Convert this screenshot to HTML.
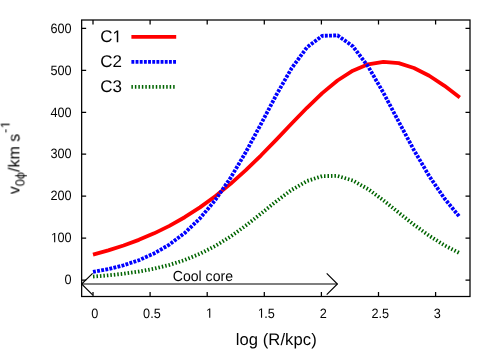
<!DOCTYPE html>
<html><head><meta charset="utf-8"><style>
html,body{margin:0;padding:0;background:#fff}
svg{display:block}
text{font-family:"Liberation Sans",sans-serif;fill:#000;text-rendering:geometricPrecision}
</style></head><body>
<svg width="500" height="350" viewBox="0 0 500 350">
<rect width="500" height="350" fill="#fff"/>
<g opacity="0.99"><g font-size="12.7"><text transform="translate(91.27,317.80) scale(1,1.07)" font-size="12.7">0</text><text transform="translate(143.07,317.80) scale(1,1.07)" font-size="12.7">0.5</text><path transform="translate(205.98,317.80) scale(0.006201,-0.006635)" d="M515 0L515 1237L197 1010L197 1180L530 1409L696 1409L696 0Z" fill="#000"/><path transform="translate(257.78,317.80) scale(0.006201,-0.006635)" d="M515 0L515 1237L197 1010L197 1180L530 1409L696 1409L696 0Z" fill="#000"/><text transform="translate(264.34,317.80) scale(1,1.07)" font-size="12.7">.5</text><text transform="translate(319.67,317.80) scale(1,1.07)" font-size="12.7">2</text><text transform="translate(371.47,317.80) scale(1,1.07)" font-size="12.7">2.5</text><text transform="translate(433.87,317.80) scale(1,1.07)" font-size="12.7">3</text><text transform="translate(64.54,284.20) scale(1,1.07)" font-size="12.7">0</text><path transform="translate(50.92,242.28) scale(0.006201,-0.006635)" d="M515 0L515 1237L197 1010L197 1180L530 1409L696 1409L696 0Z" fill="#000"/><text transform="translate(57.47,242.28) scale(1,1.07)" font-size="12.7">00</text><text transform="translate(50.41,200.36) scale(1,1.07)" font-size="12.7">200</text><text transform="translate(50.41,158.44) scale(1,1.07)" font-size="12.7">300</text><text transform="translate(50.41,116.52) scale(1,1.07)" font-size="12.7">400</text><text transform="translate(50.41,74.60) scale(1,1.07)" font-size="12.7">500</text><text transform="translate(50.41,32.68) scale(1,1.07)" font-size="12.7">600</text>
<text transform="translate(172.7,281) scale(1,1.03)" font-size="14.1">Cool core</text></g>
<g font-size="16">
<text transform="translate(100.20,42.30) scale(1,1.0)" font-size="17.0">C</text><path transform="translate(112.48,42.30) scale(0.008301,-0.008301)" d="M515 0L515 1237L197 1010L197 1180L530 1409L696 1409L696 0Z" fill="#000"/><text x="100.2" y="67.3" font-size="17">C2</text><text x="100.2" y="92.2" font-size="17">C3</text>
<text x="235.7" y="344.5" font-size="16.6" letter-spacing="0.08">log (R/kpc)</text>
<g transform="translate(19.4,194.3) rotate(-90)"><text>v<tspan font-size="12.8" dy="4.8">0&#981;</tspan><tspan dy="-4.8">/km s</tspan></text><text transform="translate(61.21,-9.70) scale(1,1.0)" font-size="12.8">-</text><path transform="translate(65.98,-9.70) scale(0.006250,-0.006250)" d="M515 0L515 1237L197 1010L197 1180L530 1409L696 1409L696 0Z" fill="#000"/></g>
</g></g>
<path d="M81.65 284H337.4" stroke="#000" stroke-width="1.1" fill="none"/>
<path d="M92.6 273.3L81.65 284L92.6 294.8M326.7 273.3L337.4 284L326.7 294.7" stroke="#000" stroke-width="1.15" fill="none"/>
<g fill="none" stroke-linejoin="round">
<polyline points="93.00,254.57 108.28,250.38 123.57,245.51 138.85,239.87 154.13,233.35 169.42,225.83 184.70,217.22 199.98,207.39 215.27,196.28 230.55,183.85 245.83,170.13 261.12,155.27 276.40,139.58 291.68,123.52 306.97,107.76 322.25,93.12 337.53,80.48 352.82,70.68 368.10,64.36 383.38,61.86 398.67,63.17 413.95,67.98 429.23,75.74 444.52,85.81 459.80,97.51" stroke="#ff0000" stroke-width="3.8"/>
<polyline points="93.00,271.94 108.28,269.10 123.57,265.28 138.85,260.19 154.13,253.43 169.42,244.56 184.70,233.04 199.98,218.35 215.27,200.03 230.55,177.85 245.83,152.09 261.12,123.74 276.40,94.78 291.68,68.17 306.97,47.41 322.25,35.81 337.53,35.39 352.82,46.23 368.10,66.43 383.38,92.74 398.67,121.64 413.95,150.11 429.23,176.10 444.52,198.55 459.80,217.15" stroke="#0000ff" stroke-width="3.8" stroke-dasharray="2.9 1.27"/>
<polyline points="93.00,276.57 108.28,275.36 123.57,273.74 138.85,271.57 154.13,268.69 169.42,264.92 184.70,260.02 199.98,253.76 215.27,245.97 230.55,236.53 245.83,225.56 261.12,213.50 276.40,201.18 291.68,189.85 306.97,181.02 322.25,176.08 337.53,175.90 352.82,180.52 368.10,189.11 383.38,200.31 398.67,212.60 413.95,224.72 429.23,235.78 444.52,245.34 459.80,253.25" stroke="#006400" stroke-width="3.8" stroke-dasharray="1.5 1.98"/>
<path d="M131.4 36.9H176.2" stroke="#ff0000" stroke-width="3.8"/>
<path d="M131.4 61.9H176.2" stroke="#0000ff" stroke-width="3.8" stroke-dasharray="2.9 1.27"/>
<path d="M131.4 86.8H176.2" stroke="#006400" stroke-width="3.8" stroke-dasharray="1.5 1.98"/>
</g>
<path d="M93.00 296.5v-4.5M93.00 20.0v4.5M150.10 296.5v-4.5M150.10 20.0v4.5M207.20 296.5v-4.5M207.20 20.0v4.5M264.30 296.5v-4.5M264.30 20.0v4.5M321.40 296.5v-4.5M321.40 20.0v4.5M378.50 296.5v-4.5M378.50 20.0v4.5M435.60 296.5v-4.5M435.60 20.0v4.5M81.65 280.00h4.5M470.0 280.00h-4.5M81.65 238.08h4.5M470.0 238.08h-4.5M81.65 196.16h4.5M470.0 196.16h-4.5M81.65 154.24h4.5M470.0 154.24h-4.5M81.65 112.32h4.5M470.0 112.32h-4.5M81.65 70.40h4.5M470.0 70.40h-4.5M81.65 28.48h4.5M470.0 28.48h-4.5" stroke="#000" stroke-width="1.25" fill="none"/>
<rect x="81.65" y="20.0" width="388.35" height="276.5" fill="none" stroke="#000" stroke-width="1.25"/>
</svg>
</body></html>
